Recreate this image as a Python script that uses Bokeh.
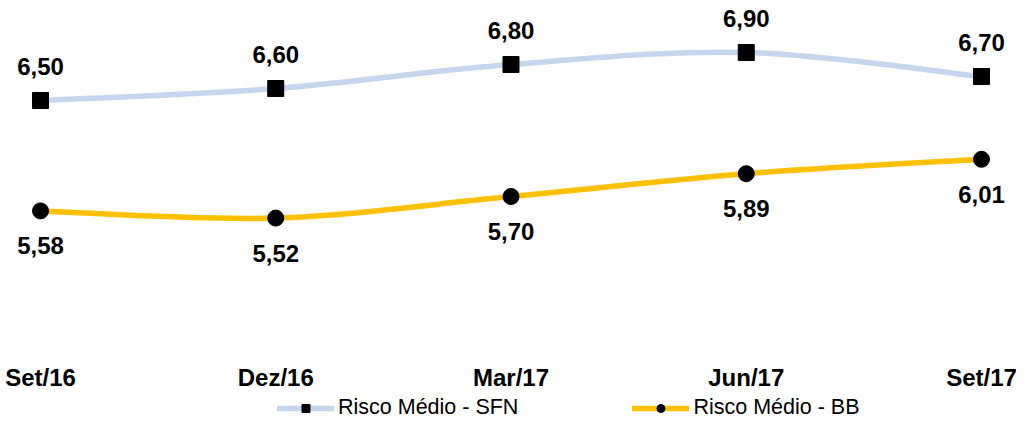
from bokeh.plotting import figure
from bokeh.models import Range1d, Legend, LegendItem, ColumnDataSource
from bokeh.core.properties import value
from bokeh.embed import file_html
from bokeh.resources import INLINE

categories = ["Set/16", "Dez/16", "Mar/17", "Jun/17", "Set/17"]
risco_sfn = [6.50, 6.60, 6.80, 6.90, 6.70]
risco_bb = [5.58, 5.52, 5.70, 5.89, 6.01]
series_names = ["Risco Médio - SFN", "Risco Médio - BB"]

SFN_COLOR = "#C5D6EE"
BB_COLOR = "#FFC000"
FONT = "Liberation Sans"

xs = list(range(len(categories)))


def fmt(v):
    return f"{v:.2f}".replace(".", ",")


def smooth_segments(x, y):
    """Catmull-Rom style cubic Bezier control points (Excel smoothed line)."""
    n = len(x)
    d = dict(x0=[], y0=[], x1=[], y1=[], cx0=[], cy0=[], cx1=[], cy1=[])
    for i in range(n - 1):
        im = max(i - 1, 0)
        ip2 = min(i + 2, n - 1)
        d["x0"].append(x[i]); d["y0"].append(y[i])
        d["x1"].append(x[i + 1]); d["y1"].append(y[i + 1])
        d["cx0"].append(x[i] + (x[i + 1] - x[im]) / 6.0)
        d["cy0"].append(y[i] + (y[i + 1] - y[im]) / 6.0)
        d["cx1"].append(x[i + 1] - (x[ip2] - x[i]) / 6.0)
        d["cy1"].append(y[i + 1] - (y[ip2] - y[i]) / 6.0)
    return ColumnDataSource(d)


Y0, Y1 = 3.8333, 7.3333
p = figure(
    width=1016, height=420,
    x_range=Range1d(-0.17003, 4.14878), y_range=Range1d(Y0, Y1),
    output_backend="svg", toolbar_location=None,
    x_axis_location=None, y_axis_location=None,
    min_border=0, outline_line_color=None,
)
p.grid.visible = False

# smoothed lines
r_sfn_line = p.bezier(x0="x0", y0="y0", x1="x1", y1="y1", cx0="cx0", cy0="cy0",
                      cx1="cx1", cy1="cy1", source=smooth_segments(xs, risco_sfn),
                      line_color=SFN_COLOR, line_width=5.5, line_cap="round")
r_bb_line = p.bezier(x0="x0", y0="y0", x1="x1", y1="y1", cx0="cx0", cy0="cy0",
                     cx1="cx1", cy1="cy1", source=smooth_segments(xs, risco_bb),
                     line_color=BB_COLOR, line_width=5.5, line_cap="round")

r_sfn_pts = p.scatter(xs, risco_sfn, marker="square", size=16, fill_color="black", line_color="black")
r_bb_pts = p.scatter(xs, risco_bb, marker="circle", size=16, fill_color="black", line_color="black")

# data labels
p.text(xs, risco_sfn, text=[fmt(v) for v in risco_sfn], text_align="center",
       text_baseline="middle", y_offset=-34, text_font=value(FONT),
       text_font_style="bold", text_font_size="24px", text_color="black")
p.text(xs, risco_bb, text=[fmt(v) for v in risco_bb], text_align="center",
       text_baseline="middle", y_offset=35, text_font=value(FONT),
       text_font_style="bold", text_font_size="24px", text_color="black")

# category labels (x axis)
p.text(xs, [Y0] * len(xs), text=categories, text_align="center",
       text_baseline="middle", y_offset=-43, text_font=value(FONT),
       text_font_style="bold", text_font_size="24px", text_color="black")

legend = Legend(
    items=[LegendItem(label=series_names[0], renderers=[r_sfn_line, r_sfn_pts]),
           LegendItem(label=series_names[1], renderers=[r_bb_line, r_bb_pts])],
    location=(277, 0), orientation="horizontal",
    glyph_width=57, glyph_height=20, label_standoff=4, spacing=114,
    padding=0, margin=0, border_line_color=None, background_fill_alpha=0,
    label_text_font=FONT, label_text_font_size="21.5px", label_text_color="black",
    label_height=20,
)
p.add_layout(legend)

open("out.html", "w").write(file_html(p, INLINE))
